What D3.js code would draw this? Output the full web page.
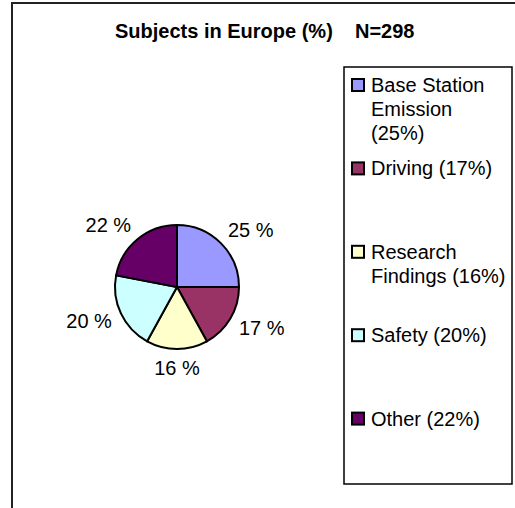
<!DOCTYPE html>
<html>
<head>
<meta charset="utf-8">
<script src="https://cdn.jsdelivr.net/npm/d3@7"></script>
<style>
  html, body { margin: 0; padding: 0; background: #fff; }
  svg { display: block; font-family: "Liberation Sans", Arial, sans-serif; }
</style>
</head>
<body>
<script>
const categories = ["Base Station Emission", "Driving", "Research Findings", "Safety", "Other"];
const values = [25, 17, 16, 20, 22];
const colors = ["#9999FF", "#993366", "#FFFFCC", "#CCFFFF", "#660066"];
const titleText = "Subjects in Europe (%)";
const titleN = "N=298";

const W = 515, H = 508;
const svg = d3.select("body").append("svg").attr("width", W).attr("height", H);

// outer chart frame (clipped by window at right/bottom)
svg.append("rect")
  .attr("x", 12).attr("y", 3).attr("width", 600).attr("height", 600)
  .attr("fill", "#fff").attr("stroke", "#222").attr("stroke-width", 2);

// title
const title = svg.append("text")
  .attr("y", 38)
  .attr("font-size", 20).attr("font-weight", "bold").attr("fill", "#000");
title.append("tspan").attr("x", 115).text(titleText);
title.append("tspan").attr("x", 355).text(titleN);

// pie
const cx = 177, cy = 287, r = 62;
const data = categories.map((c, i) => ({ cat: c, value: values[i], color: colors[i] }));
const pie = d3.pie().value(d => d.value).sort(null);
const arcs = pie(data);
const arc = d3.arc().innerRadius(0).outerRadius(r);

const g = svg.append("g").attr("transform", `translate(${cx},${cy})`);
g.selectAll("path.slice").data(arcs).join("path")
  .attr("class", "slice")
  .attr("d", arc)
  .attr("fill", d => d.data.color)
  .attr("stroke", "#000").attr("stroke-width", 2).attr("stroke-linejoin", "round");

// data labels
const labelR = r + 10;
g.selectAll("text.lbl").data(arcs).join("text")
  .attr("class", "lbl")
  .attr("font-size", 20).attr("fill", "#000")
  .attr("text-anchor", "middle")
  .text(d => d.data.value + " %")
  .each(function (d) {
    const t = (d.startAngle + d.endAngle) / 2;
    const s = Math.sin(t), c = Math.cos(t);
    const hw = this.getComputedTextLength() / 2, hh = 9;
    const x = labelR * s + hw * Math.max(-1, Math.min(1, 2 * s));
    const y = -labelR * c - hh * c;
    d3.select(this).attr("x", x).attr("y", y + 7);
  });

// legend
const lx = 344, ly = 67, lw = 168, lh = 417;
svg.append("rect")
  .attr("x", lx).attr("y", ly).attr("width", lw).attr("height", lh)
  .attr("fill", "#fff").attr("stroke", "#000").attr("stroke-width", 1.5);

const itemH = lh / data.length;
const lineH = 24;
const maxW = 137.5;
const leg = svg.append("g");
data.forEach((d, i) => {
  const cyLine = ly + 18 + i * itemH;
  leg.append("rect")
    .attr("x", 352).attr("y", cyLine - 6).attr("width", 12).attr("height", 12)
    .attr("fill", d.color).attr("stroke", "#000").attr("stroke-width", 2);
  const txt = leg.append("text").attr("font-size", 20).attr("fill", "#000");
  const words = (d.cat + " (" + d.value + "%)").split(" ");
  let line = [], lineNo = 0;
  let tspan = txt.append("tspan").attr("x", 371).attr("y", cyLine + 7);
  words.forEach(w => {
    line.push(w);
    tspan.text(line.join(" "));
    if (tspan.node().getComputedTextLength() > maxW && line.length > 1) {
      line.pop();
      tspan.text(line.join(" "));
      line = [w];
      lineNo++;
      tspan = txt.append("tspan").attr("x", 371).attr("y", cyLine + 7 + lineNo * lineH).text(w);
    }
  });
});
</script>
</body>
</html>
